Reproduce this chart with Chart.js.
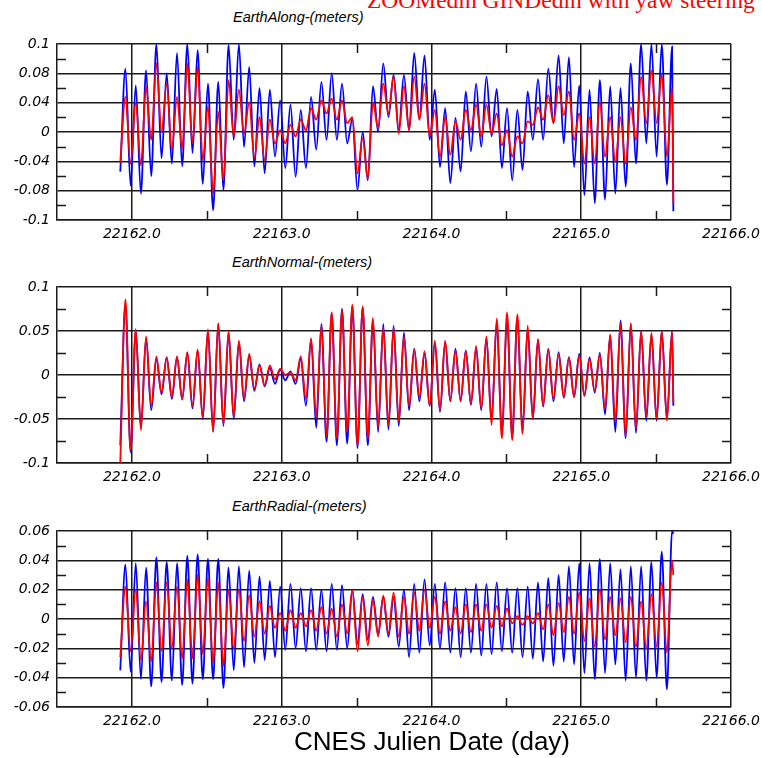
<!DOCTYPE html>
<html>
<head>
<meta charset="utf-8">
<script src="https://cdn.jsdelivr.net/npm/chart.js@4.4.1/dist/chart.umd.min.js"></script>
<style>
  html, body { margin: 0; padding: 0; background: #fff; }
  body { width: 762px; height: 758px; overflow: hidden; position: relative; }
  canvas { position: absolute; left: 0; }
  .ttl { position: absolute; font: italic 14.5px/16px "Liberation Sans", Arial, sans-serif; color: #000; white-space: nowrap; }
  #top { position: absolute; left: 367px; top: -11px; font: 23.5px/23px "Liberation Serif", "Times New Roman", serif; color: #ff0000; white-space: nowrap; }
  #xlab { position: absolute; left: 432px; top: 727px; transform: translateX(-50%); font: 26px/28px "Liberation Sans", Arial, sans-serif; color: #000; white-space: nowrap; }
</style>
</head>
<body>
<div id="top">ZOOMedin GINDedin with yaw steering</div>
<div class="ttl" style="left:233px;top:9px">EarthAlong-(meters)</div>
<div class="ttl" style="left:232px;top:254px">EarthNormal-(meters)</div>
<div class="ttl" style="left:232px;top:498px">EarthRadial-(meters)</div>
<canvas id="cAlong" width="800" height="226"></canvas>
<canvas id="cNormal" width="800" height="226"></canvas>
<canvas id="cRadial" width="800" height="226"></canvas>
<div id="xlab">CNES Julien Date (day)</div>

<script>
// ---- x axis (CNES Julian day) ----
const xMin = 22161.5, xMax = 22166.0;
const xMajor = [22162, 22163, 22164, 22165, 22166];
const xMinor = [22162.5, 22163.5, 22164.5, 22165.5];

// sampling of the orbit: one trough then one peak each revolution
const sampleStart = 22161.9225;
const halfOrbit = 0.03443;
const endDay = 22165.615;

// ---- EarthAlong ----
const alongMajor  = [-0.1, -0.0667, -0.0333, 0, 0.0333, 0.0667, 0.1];
const alongLabels = ['-0.1', '-0.08', '-0.04', '0', '0.04', '0.08', '0.1'];
const alongMinor  = [-0.0833, -0.05, -0.0167, 0.0167, 0.05, 0.0833];
const alongBlueHi = [0.072, 0.053, 0.07, 0.1, 0.067, 0.09, 0.1, 0.093, 0.055, 0.057,
  0.099, 0.1, 0.074, 0.05, 0.048, 0.036, 0.031, 0.025, 0.04, 0.057,
  0.067, 0.055, 0.015, 0.0, 0.052, 0.078, 0.065, 0.065, 0.09, 0.087,
  0.048, 0.027, 0.016, 0.046, 0.055, 0.063, 0.049, 0.027, 0.025, 0.046,
  0.06, 0.072, 0.087, 0.085, 0.053, 0.048, 0.059, 0.052, 0.05, 0.078,
  0.1, 0.1, 0.1, 0.097];
const alongBlueLo = [-0.045, -0.061, -0.07, -0.05, -0.03, -0.036, -0.039, -0.024, -0.059, -0.089,
  -0.066, -0.009, -0.017, -0.039, -0.047, -0.028, -0.041, -0.051, -0.041, -0.02,
  -0.009, -0.009, -0.013, -0.066, -0.055, 0.0, 0.017, 0.002, 0.002, 0.014,
  -0.009, -0.04, -0.058, -0.045, -0.022, -0.017, -0.005, -0.041, -0.055, -0.043,
  -0.009, -0.009, 0.01, -0.013, -0.04, -0.072, -0.081, -0.077, -0.07, -0.062,
  -0.036, -0.013, -0.028, -0.06, -0.09];
const alongRedHi = [0.04, 0.033, 0.052, 0.078, 0.055, 0.04, 0.078, 0.074, 0.029, 0.023,
  0.059, 0.048, 0.034, 0.017, 0.014, 0.002, 0.008, 0.014, 0.027, 0.036,
  0.038, 0.036, 0.017, -0.007, 0.033, 0.055, 0.063, 0.052, 0.063, 0.055,
  0.025, 0.017, 0.012, 0.025, 0.031, 0.031, 0.021, 0.002, -0.005, 0.012,
  0.028, 0.042, 0.052, 0.046, 0.021, 0.017, 0.034, 0.017, 0.017, 0.028,
  0.063, 0.07, 0.065, 0.05];
const alongRedLo = [-0.035, -0.036, -0.038, -0.009, 0.0, -0.02, -0.019, -0.013, -0.032, -0.07,
  -0.055, -0.005, -0.002, -0.03, -0.032, -0.013, -0.013, -0.005, 0.002, 0.014,
  0.021, 0.014, 0.01, -0.047, -0.053, 0.005, 0.021, -0.002, 0.002, 0.014,
  -0.005, -0.028, -0.026, -0.009, 0.002, -0.005, -0.002, -0.015, -0.028, -0.013,
  0.008, 0.014, 0.01, 0.019, -0.009, -0.036, -0.036, -0.028, -0.034, -0.036,
  -0.009, 0.01, 0.01, -0.028, -0.08];

// ---- EarthNormal ----
const normalMajor  = [-0.1, -0.05, 0, 0.05, 0.1];
const normalLabels = ['-0.1', '-0.05', '0', '0.05', '0.1'];
const normalMinor  = [-0.075, -0.025, 0.025, 0.075];
const normalBlueHi = [0.08, 0.05, 0.042, 0.018, 0.02, 0.02, 0.025, 0.027, 0.05, 0.058,
  0.048, 0.037, 0.022, 0.012, 0.008, 0.006, 0.004, 0.018, 0.04, 0.058,
  0.07, 0.075, 0.078, 0.077, 0.062, 0.058, 0.056, 0.048, 0.03, 0.025,
  0.036, 0.037, 0.03, 0.028, 0.03, 0.042, 0.06, 0.064, 0.065, 0.052,
  0.04, 0.03, 0.026, 0.02, 0.024, 0.02, 0.025, 0.045, 0.062, 0.058,
  0.05, 0.046, 0.05, 0.05];
const normalBlueLo = [-0.08, -0.088, -0.06, -0.04, -0.022, -0.027, -0.028, -0.038, -0.05, -0.064,
  -0.058, -0.05, -0.03, -0.018, -0.013, -0.01, -0.006, -0.01, -0.035, -0.06,
  -0.076, -0.08, -0.078, -0.083, -0.08, -0.065, -0.062, -0.058, -0.04, -0.03,
  -0.035, -0.042, -0.03, -0.03, -0.034, -0.04, -0.052, -0.066, -0.07, -0.063,
  -0.05, -0.036, -0.03, -0.026, -0.025, -0.024, -0.02, -0.045, -0.065, -0.072,
  -0.066, -0.052, -0.052, -0.05, -0.035];
const normalRedHi = [0.086, 0.052, 0.044, 0.021, 0.02, 0.021, 0.026, 0.029, 0.052, 0.059,
  0.05, 0.039, 0.024, 0.011, 0.011, 0.007, 0.003, 0.021, 0.042, 0.056,
  0.071, 0.073, 0.08, 0.078, 0.065, 0.054, 0.054, 0.044, 0.029, 0.027,
  0.039, 0.039, 0.027, 0.027, 0.033, 0.044, 0.064, 0.071, 0.069, 0.056,
  0.041, 0.029, 0.024, 0.02, 0.022, 0.018, 0.023, 0.046, 0.059, 0.059,
  0.05, 0.048, 0.05, 0.05];
const normalRedLo = [-0.1, -0.085, -0.063, -0.035, -0.02, -0.025, -0.027, -0.035, -0.048, -0.065,
  -0.056, -0.048, -0.027, -0.016, -0.012, -0.005, 0.0, -0.006, -0.027, -0.048,
  -0.07, -0.072, -0.065, -0.08, -0.072, -0.06, -0.057, -0.053, -0.035, -0.025,
  -0.035, -0.04, -0.029, -0.029, -0.033, -0.038, -0.057, -0.072, -0.074, -0.067,
  -0.05, -0.035, -0.027, -0.025, -0.025, -0.023, -0.018, -0.038, -0.053, -0.07,
  -0.061, -0.048, -0.05, -0.052, -0.031];

// ---- EarthRadial ----
const radialMajor  = [-0.06, -0.04, -0.02, 0, 0.02, 0.04, 0.06];
const radialLabels = ['-0.06', '-0.04', '-0.02', '0', '0.02', '0.04', '0.06'];
const radialMinor  = [-0.05, -0.03, -0.01, 0.01, 0.03, 0.05];
const radialBlueHi = [0.037, 0.038, 0.035, 0.042, 0.039, 0.038, 0.043, 0.044, 0.041, 0.041,
  0.035, 0.036, 0.033, 0.029, 0.026, 0.022, 0.024, 0.021, 0.021, 0.02,
  0.024, 0.023, 0.02, 0.017, 0.015, 0.015, 0.015, 0.02, 0.024, 0.027,
  0.024, 0.025, 0.021, 0.021, 0.024, 0.024, 0.025, 0.021, 0.021, 0.022,
  0.025, 0.028, 0.03, 0.036, 0.038, 0.038, 0.041, 0.038, 0.034, 0.036,
  0.036, 0.039, 0.046, 0.06];
const radialBlueLo = [-0.035, -0.036, -0.041, -0.046, -0.043, -0.042, -0.045, -0.044, -0.041, -0.041,
  -0.047, -0.035, -0.033, -0.03, -0.028, -0.026, -0.021, -0.02, -0.022, -0.021,
  -0.022, -0.021, -0.02, -0.017, -0.014, -0.01, -0.012, -0.019, -0.026, -0.023,
  -0.018, -0.02, -0.023, -0.026, -0.023, -0.025, -0.024, -0.022, -0.023, -0.026,
  -0.027, -0.029, -0.032, -0.029, -0.031, -0.037, -0.041, -0.037, -0.031, -0.042,
  -0.04, -0.042, -0.04, -0.048, 0.058];
const radialRedHi = [0.022, 0.02, 0.012, 0.025, 0.025, 0.022, 0.027, 0.03, 0.028, 0.025,
  0.02, 0.02, 0.016, 0.012, 0.009, 0.004, 0.006, 0.004, 0.006, 0.008,
  0.007, 0.01, 0.02, 0.015, 0.013, 0.016, 0.018, 0.015, 0.018, 0.02,
  0.015, 0.012, 0.008, 0.01, 0.01, 0.01, 0.009, 0.007, 0.002, 0.002,
  0.004, 0.01, 0.011, 0.015, 0.018, 0.014, 0.02, 0.015, 0.014, 0.015,
  0.012, 0.017, 0.025, 0.04];
const radialRedLo = [-0.026, -0.022, -0.028, -0.029, -0.022, -0.02, -0.027, -0.027, -0.024, -0.03,
  -0.032, -0.02, -0.015, -0.012, -0.01, -0.006, -0.008, -0.006, -0.005, -0.008,
  -0.01, -0.012, -0.01, -0.022, -0.018, -0.012, -0.01, -0.012, -0.01, -0.008,
  -0.006, -0.01, -0.008, -0.01, -0.009, -0.008, -0.006, -0.005, -0.003, -0.004,
  -0.003, -0.007, -0.011, -0.009, -0.01, -0.015, -0.019, -0.014, -0.011, -0.016,
  -0.019, -0.02, -0.019, -0.023, 0.03];

// трог, пик, трог, пик ... последний трог = конец записи
function weave(lo, hi) {
  const pts = [];
  for (let k = 0; k < hi.length; k++) {
    pts.push({ x: sampleStart + 2 * k * halfOrbit, y: lo[k] });
    pts.push({ x: sampleStart + (2 * k + 1) * halfOrbit, y: hi[k] });
  }
  pts.push({ x: endDay, y: lo[hi.length] });
  return pts;
}

const INK = '#1a1a1a';
const tickFont = { family: '"DejaVu Sans", Verdana, sans-serif', size: 14, style: 'italic' };
const PAD_TOP = 20; // больше, чем выступ подписей — рамка стоит ровно

// short inward ticks on the frame (minor divisions)
const minorTicks = {
  id: 'minorTicks',
  beforeDatasetsDraw(chart, _args, opts) {
    const { ctx, chartArea: a, scales } = chart;
    const len = 9;
    ctx.save();
    ctx.strokeStyle = INK;
    ctx.lineWidth = 1.5;
    ctx.beginPath();
    (opts.y || []).forEach(v => {
      const py = Math.round(scales.y.getPixelForValue(v)) + 0.5;
      ctx.moveTo(a.left, py); ctx.lineTo(a.left + len, py);
      ctx.moveTo(a.right - len, py); ctx.lineTo(a.right, py);
    });
    (opts.x || []).forEach(v => {
      const px = Math.round(scales.x.getPixelForValue(v)) + 0.5;
      ctx.moveTo(px, a.top); ctx.lineTo(px, a.top + len);
      ctx.moveTo(px, a.bottom - len); ctx.lineTo(px, a.bottom);
    });
    ctx.stroke();
    ctx.restore();
  }
};

function panel(id, top, yMajor, yLabels, yMinor, blueLo, blueHi, redLo, redHi) {
  const el = document.getElementById(id);
  el.style.top = (top - PAD_TOP) + 'px';
  const line = { borderWidth: 1.8, pointRadius: 0, cubicInterpolationMode: 'monotone', fill: false };
  new Chart(el.getContext('2d'), {
    type: 'line',
    data: {
      datasets: [
        // красный поверх синего
        { ...line, data: weave(redLo, redHi), borderColor: '#ff0000', order: 1 },
        { ...line, data: weave(blueLo, blueHi), borderColor: '#0000ff', order: 2 }
      ]
    },
    options: {
      responsive: false,
      animation: false,
      events: [],
      layout: { padding: { top: PAD_TOP, right: 69, left: 0, bottom: 0 } },
      plugins: {
        legend: { display: false },
        tooltip: { enabled: false },
        minorTicks: { x: xMinor, y: yMinor }
      },
      scales: {
        x: {
          type: 'linear', min: xMin, max: xMax,
          afterBuildTicks: s => { s.ticks = xMajor.map(v => ({ value: v })); },
          afterFit: s => { s.height = 30; },
          ticks: { callback: v => v.toFixed(1), font: tickFont, color: '#000', padding: 6, maxRotation: 0, autoSkip: false },
          grid: { color: INK, lineWidth: 1.5, drawTicks: false },
          border: { color: INK, width: 1.5 }
        },
        y: {
          type: 'linear', min: yMajor[0], max: yMajor[yMajor.length - 1],
          afterBuildTicks: s => { s.ticks = yMajor.map(v => ({ value: v })); },
          afterFit: s => { s.width = 57; },
          ticks: { callback: (v, i) => yLabels[i], font: tickFont, color: '#000', padding: 7, autoSkip: false },
          grid: { color: INK, lineWidth: 1.5, drawTicks: false },
          border: { color: INK, width: 1.5 }
        }
      }
    },
    plugins: [minorTicks]
  });
}

panel('cAlong', 44, alongMajor, alongLabels, alongMinor, alongBlueLo, alongBlueHi, alongRedLo, alongRedHi);
panel('cNormal', 287, normalMajor, normalLabels, normalMinor, normalBlueLo, normalBlueHi, normalRedLo, normalRedHi);
panel('cRadial', 531, radialMajor, radialLabels, radialMinor, radialBlueLo, radialBlueHi, radialRedLo, radialRedHi);
</script>
</body>
</html>
